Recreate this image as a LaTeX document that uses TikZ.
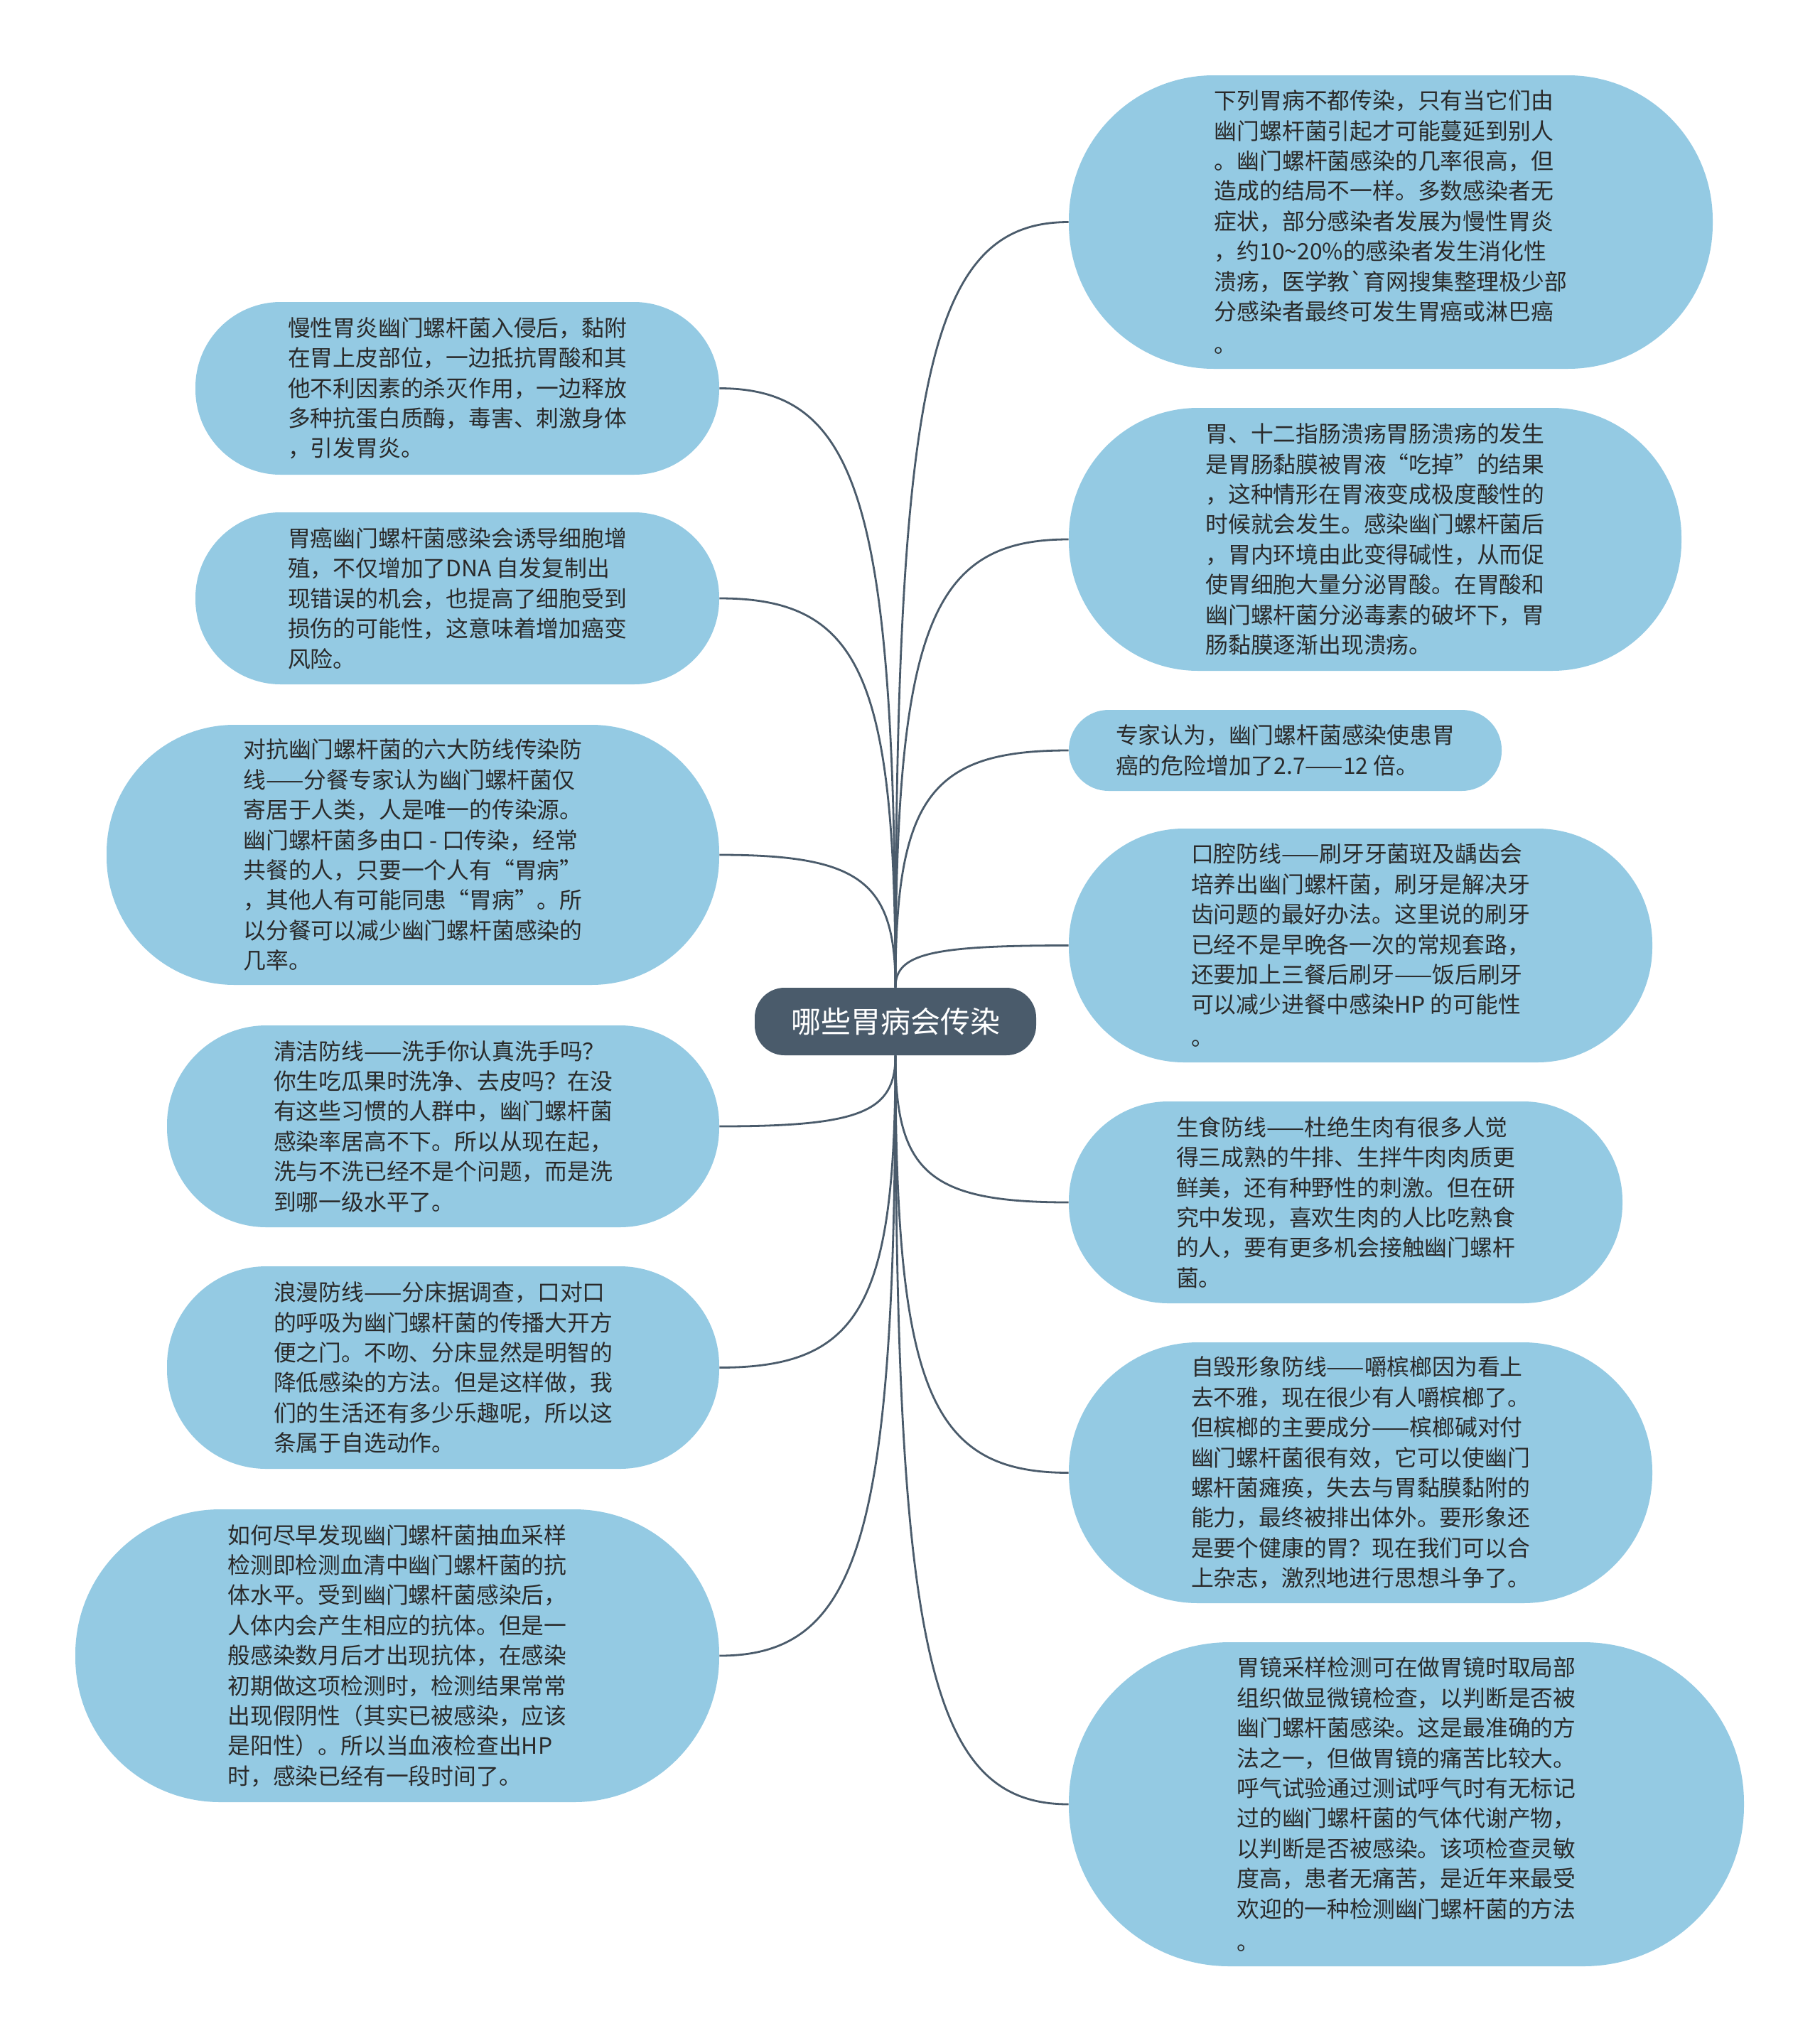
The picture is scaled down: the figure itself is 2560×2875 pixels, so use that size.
\documentclass[tikz,border=0pt]{standalone}
\usepackage{fontspec}
\usetikzlibrary{calc}
\newfontfamily\cjk{Noto Sans CJK SC}
\definecolor{nodeblue}{HTML}{94CAE3}
\definecolor{rootc}{HTML}{4A5B6B}
\definecolor{linec}{HTML}{4A5B6B}
\definecolor{txt}{HTML}{2A2A2A}
\newcommand\linkto[2]{\draw[conn] (#1) .. controls ($(#1)!0.8!(#1 |- #2)$) and ($(#2)!0.8!(#1 |- #2)$) .. (#2);}
\begin{document}
\begin{tikzpicture}[x=0.5pt,y=-0.5pt,
  box/.style={rectangle, fill=nodeblue, inner sep=0pt, align=left, text=txt,
    font={\cjk\fontsize{15.9pt}{21.2pt}\selectfont}},
  root/.style={rectangle, fill=rootc, inner sep=0pt, text=white,
    font={\cjk\fontsize{21pt}{26pt}\selectfont}},
  conn/.style={draw=linec, line width=1.4pt}]
\useasboundingbox[fill=white] (0,0) rectangle (2560,2875);

% root
\node[root, minimum width=198pt, minimum height=47.5pt, rounded corners=21pt] (c) at (1260,1437.5) {哪些胃病会传染};

% left nodes
\node[box, minimum width=368.5pt, minimum height=121.5pt, rounded corners=60pt] (L1) at (643.5,546.5) {慢性胃炎幽门螺杆菌入侵后，黏附\\在胃上皮部位，一边抵抗胃酸和其\\他不利因素的杀灭作用，一边释放\\多种抗蛋白质酶，毒害、刺激身体\\，引发胃炎。};

\node[box, minimum width=368.5pt, minimum height=121pt, rounded corners=60pt] (L2) at (643.5,842) {胃癌幽门螺杆菌感染会诱导细胞增\\殖，不仅增加了DNA 自发复制出\\现错误的机会，也提高了细胞受到\\损伤的可能性，这意味着增加癌变\\风险。};

\node[box, minimum width=431pt, minimum height=183pt, rounded corners=90pt] (L3) at (581,1203) {对抗幽门螺杆菌的六大防线传染防\\线——分餐专家认为幽门螺杆菌仅\\寄居于人类，人是唯一的传染源。\\幽门螺杆菌多由口 - 口传染，经常\\共餐的人，只要一个人有“胃病”\\，其他人有可能同患“胃病”。所\\以分餐可以减少幽门螺杆菌感染的\\几率。};

\node[box, minimum width=388.5pt, minimum height=142pt, rounded corners=70pt] (L4) at (623.5,1585) {清洁防线——洗手你认真洗手吗？\\你生吃瓜果时洗净、去皮吗？在没\\有这些习惯的人群中，幽门螺杆菌\\感染率居高不下。所以从现在起，\\洗与不洗已经不是个问题，而是洗\\到哪一级水平了。};

\node[box, minimum width=388.5pt, minimum height=142.5pt, rounded corners=70pt] (L5) at (623.5,1924.5) {浪漫防线——分床据调查，口对口\\的呼吸为幽门螺杆菌的传播大开方\\便之门。不吻、分床显然是明智的\\降低感染的方法。但是这样做，我\\们的生活还有多少乐趣呢，所以这\\条属于自选动作。};

\node[box, minimum width=453pt, minimum height=206pt, rounded corners=102pt] (L6) at (559,2330) {如何尽早发现幽门螺杆菌抽血采样\\检测即检测血清中幽门螺杆菌的抗\\体水平。受到幽门螺杆菌感染后，\\人体内会产生相应的抗体。但是一\\般感染数月后才出现抗体，在感染\\初期做这项检测时，检测结果常常\\出现假阴性（其实已被感染，应该\\是阳性）。所以当血液检查出HP\\时，感染已经有一段时间了。};

% right nodes
\node[box, minimum width=453pt, minimum height=206.5pt, rounded corners=102pt] (R1) at (1957,312.5) {下列胃病不都传染，只有当它们由\\幽门螺杆菌引起才可能蔓延到别人\\。幽门螺杆菌感染的几率很高，但\\造成的结局不一样。多数感染者无\\症状，部分感染者发展为慢性胃炎\\，约10\char126 20\%的感染者发生消化性\\溃疡，医学教`育网搜集整理极少部\\分感染者最终可发生胃癌或淋巴癌\\[1.8pt]。};

\node[box, minimum width=431pt, minimum height=185pt, rounded corners=91pt] (R2) at (1935,759) {胃、十二指肠溃疡胃肠溃疡的发生\\是胃肠黏膜被胃液“吃掉”的结果\\，这种情形在胃液变成极度酸性的\\时候就会发生。感染幽门螺杆菌后\\，胃内环境由此变得碱性，从而促\\使胃细胞大量分泌胃酸。在胃酸和\\幽门螺杆菌分泌毒素的破坏下，胃\\肠黏膜逐渐出现溃疡。};

\node[box, minimum width=304.5pt, minimum height=57pt, rounded corners=28pt] (R3) at (1808.5,1056) {专家认为，幽门螺杆菌感染使患胃\\癌的危险增加了2.7——12 倍。};

\node[box, minimum width=410.5pt, minimum height=164.5pt, rounded corners=81pt] (R4) at (1914.5,1330.5) {口腔防线——刷牙牙菌斑及龋齿会\\培养出幽门螺杆菌，刷牙是解决牙\\齿问题的最好办法。这里说的刷牙\\已经不是早晚各一次的常规套路，\\还要加上三餐后刷牙——饭后刷牙\\可以减少进餐中感染HP 的可能性\\[1.8pt]。};

\node[box, minimum width=389.5pt, minimum height=142pt, rounded corners=70pt] (R5) at (1893.5,1692) {生食防线——杜绝生肉有很多人觉\\得三成熟的牛排、生拌牛肉肉质更\\鲜美，还有种野性的刺激。但在研\\究中发现，喜欢生肉的人比吃熟食\\的人，要有更多机会接触幽门螺杆\\菌。};

\node[box, minimum width=410.5pt, minimum height=183.5pt, rounded corners=91pt] (R6) at (1914.5,2072.5) {自毁形象防线——嚼槟榔因为看上\\去不雅，现在很少有人嚼槟榔了。\\但槟榔的主要成分——槟榔碱对付\\幽门螺杆菌很有效，它可以使幽门\\螺杆菌瘫痪，失去与胃黏膜黏附的\\能力，最终被排出体外。要形象还\\是要个健康的胃？现在我们可以合\\上杂志，激烈地进行思想斗争了。};

\node[box, minimum width=475pt, minimum height=228pt, rounded corners=113pt] (R7) at (1979,2539) {胃镜采样检测可在做胃镜时取局部\\组织做显微镜检查，以判断是否被\\幽门螺杆菌感染。这是最准确的方\\法之一，但做胃镜的痛苦比较大。\\呼气试验通过测试呼气时有无标记\\过的幽门螺杆菌的气体代谢产物，\\以判断是否被感染。该项检查灵敏\\度高，患者无痛苦，是近年来最受\\欢迎的一种检测幽门螺杆菌的方法\\[1.8pt]。};

% connectors
\linkto{c.north}{L1.east}
\linkto{c.north}{L2.east}
\linkto{c.north}{L3.east}
\linkto{c.south}{L4.east}
\linkto{c.south}{L5.east}
\linkto{c.south}{L6.east}
\linkto{c.north}{R1.west}
\linkto{c.north}{R2.west}
\linkto{c.north}{R3.west}
\linkto{c.north}{R4.west}
\linkto{c.south}{R5.west}
\linkto{c.south}{R6.west}
\linkto{c.south}{R7.west}
\end{tikzpicture}
\end{document}
